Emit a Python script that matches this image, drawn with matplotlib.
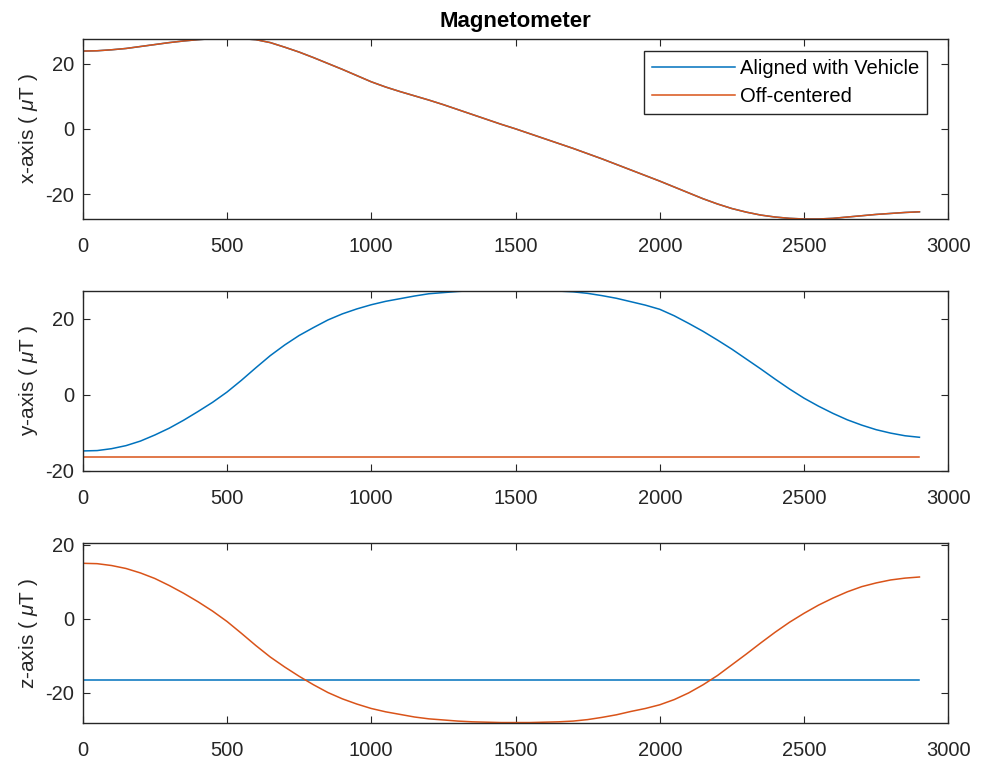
import numpy as np
import matplotlib
matplotlib.use('Agg')
import matplotlib.pyplot as plt

plt.rcParams['font.family'] = ['Liberation Sans', 'DejaVu Sans']
plt.rcParams['axes.unicode_minus'] = False
plt.rcParams['mathtext.fontset'] = 'custom'
plt.rcParams['mathtext.it'] = 'Liberation Sans:italic'

# sample index (values read every 50 samples off the picture)
t = np.arange(0, 2901, 50)
t_flat = [0, 2900]

# x-axis: both series lie on top of each other
aligned_x = [23.8, 23.9, 24.2, 24.6, 25.2, 25.8, 26.4, 26.9, 27.3, 27.6,
             27.7, 27.6, 27.3, 26.4, 25.0, 23.5, 21.8, 20.0, 18.2, 16.3,
             14.4, 12.8, 11.4, 10.1, 8.8, 7.4, 5.9, 4.4, 2.9, 1.4,
             0.0, -1.5, -3.0, -4.5, -6.0, -7.6, -9.2, -10.9, -12.6, -14.3,
             -16.0, -17.8, -19.6, -21.4, -23.0, -24.4, -25.5, -26.4, -27.0, -27.4,
             -27.6, -27.6, -27.4, -27.0, -26.6, -26.2, -25.9, -25.6, -25.4]
offc_x = aligned_x

# y-axis
aligned_y = [-14.8, -14.7, -14.2, -13.4, -12.2, -10.6, -8.8, -6.7, -4.4, -2.0,
             0.7, 3.8, 7.1, 10.3, 13.1, 15.6, 17.7, 19.7, 21.3, 22.6,
             23.7, 24.6, 25.3, 26.0, 26.6, 26.9, 27.2, 27.4, 27.5, 27.6,
             27.6, 27.6, 27.5, 27.3, 27.1, 26.7, 26.1, 25.4, 24.5, 23.6,
             22.5, 20.8, 18.8, 16.7, 14.4, 12.0, 9.4, 6.8, 4.1, 1.5,
             -0.9, -3.0, -4.9, -6.6, -8.0, -9.2, -10.1, -10.8, -11.2]
offc_y = [-16.4, -16.4]

# z-axis
aligned_z = [-16.5, -16.5]
offc_z = [15.0, 14.9, 14.4, 13.6, 12.4, 10.9, 9.0, 6.9, 4.6, 2.1,
          -0.7, -3.9, -7.2, -10.3, -13.0, -15.5, -17.8, -19.9, -21.6, -23.0,
          -24.2, -25.1, -25.8, -26.5, -27.0, -27.3, -27.6, -27.8, -27.9, -28.0,
          -28.0, -28.0, -27.9, -27.8, -27.6, -27.2, -26.6, -25.9, -25.0, -24.2,
          -23.2, -21.8, -20.0, -17.8, -15.3, -12.4, -9.5, -6.5, -3.6, -0.9,
          1.5, 3.7, 5.6, 7.3, 8.7, 9.7, 10.5, 11.0, 11.3]

blue = '#0072BD'
red = '#D95319'
dark = '#262626'

fig = plt.figure(figsize=(9.81, 7.63), dpi=100)
W, H = 981.0, 763.0
left, right = 82.7, 948.3
tops = [39.0, 290.7, 543.3]
ah = 180.0
ylims = [(-27.6, 27.5), (-20.0, 27.4), (-28.2, 20.4)]

axes = []
for top in tops:
    ax = fig.add_axes([left / W, 1 - (top + ah) / H, (right - left) / W, ah / H])
    axes.append(ax)

series = [
    (t, aligned_x, t, offc_x, 'x-axis ( $\\mu$T )'),
    (t, aligned_y, t_flat, offc_y, 'y-axis ( $\\mu$T )'),
    (t_flat, aligned_z, t, offc_z, 'z-axis ( $\\mu$T )'),
]

for ax, (ta, ya, tb, yb, lab), yl in zip(axes, series, ylims):
    ax.plot(ta, ya, color=blue, lw=1.1, label='Aligned with Vehicle')
    ax.plot(tb, yb, color=red, lw=1.1, label='Off-centered')
    ax.set_xlim(0, 3000)
    ax.set_ylim(*yl)
    ax.set_xticks(np.arange(0, 3001, 500))
    ax.set_yticks([-20, 0, 20])
    ax.set_ylabel(lab, fontsize=15, color=dark, labelpad=4)
    ax.tick_params(direction='in', top=True, right=True, length=5,
                   width=0.8, colors=dark, labelsize=14.5)
    ax.tick_params(axis='x', pad=13)
    ax.tick_params(axis='y', pad=6)
    for s in ax.spines.values():
        s.set_color(dark)
        s.set_linewidth(1.0)

axes[0].set_title('Magnetometer', fontsize=16, fontweight='bold', color='black', pad=9)
leg = axes[0].legend(loc='upper right', bbox_to_anchor=(0.9757, 0.933),
                     borderaxespad=0, fancybox=False, framealpha=1,
                     edgecolor=dark, fontsize=14.5, handlelength=4.1,
                     handletextpad=0.26, labelspacing=0.44, borderpad=0.4)
leg.get_frame().set_linewidth(1.0)

fig.savefig('out.png', dpi=100)
